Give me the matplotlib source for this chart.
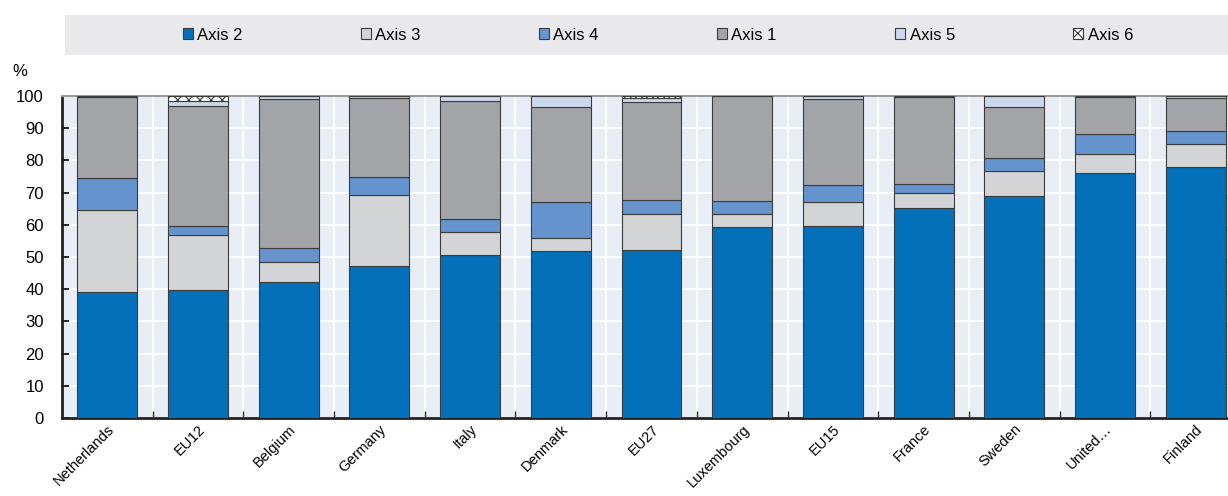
import matplotlib
matplotlib.use("Agg")
import matplotlib.pyplot as plt
from matplotlib.patches import Patch, Rectangle
import numpy as np

plt.rcParams['font.family'] = ['Liberation Sans', 'DejaVu Sans']
plt.rcParams['hatch.color'] = '#333333'
plt.rcParams['hatch.linewidth'] = 0.8

# data (share of total, %)
countries = ["Netherlands", "EU12", "Belgium", "Germany", "Italy", "Denmark", "EU27",
             "Luxembourg", "EU15", "France", "Sweden", "United…", "Finland"]
axis2 = [39.0, 39.6, 42.1, 47.2, 50.7, 51.8, 52.1, 59.2, 59.6, 65.2, 68.9, 76.0, 78.0]
axis3 = [25.5, 17.1, 6.5, 22.0, 7.1, 4.1, 11.2, 4.3, 7.4, 4.8, 7.8, 5.9, 7.0]
axis4 = [10.0, 2.9, 4.1, 5.6, 4.0, 11.2, 4.4, 3.8, 5.4, 2.6, 3.9, 6.4, 4.2]
axis1 = [25.1, 37.3, 46.3, 24.5, 36.5, 29.4, 30.4, 32.7, 26.6, 27.0, 16.1, 11.5, 10.1]
axis5 = [0.4, 1.7, 1.0, 0.7, 1.7, 3.5, 1.3, 0.0, 1.0, 0.4, 3.3, 0.2, 0.7]
axis6 = [0.0, 1.4, 0.0, 0.0, 0.0, 0.0, 0.6, 0.0, 0.0, 0.0, 0.0, 0.0, 0.0]

series = [("Axis 2", axis2, "#0470b9", None),
          ("Axis 3", axis3, "#d3d4d6", None),
          ("Axis 4", axis4, "#6493cd", None),
          ("Axis 1", axis1, "#a3a4a8", None),
          ("Axis 5", axis5, "#ccd8ec", None),
          ("Axis 6", axis6, "white", "xxx")]

fig = plt.figure(figsize=(12.28, 4.96), dpi=100)
ax = fig.add_axes([62 / 1228, 78 / 496, 1179 / 1228, 322 / 496])
ax.set_facecolor("#e9edf6")

x = np.arange(len(countries))
bottom = np.zeros(len(countries))
handles = []
for name, vals, color, hatch in series:
    vals = np.array(vals)
    ax.bar(x, vals, width=0.66, bottom=bottom, color=color, edgecolor="#3c3c3c",
           linewidth=0.8, hatch=hatch, zorder=3)
    bottom += vals
    handles.append(Patch(facecolor=color, edgecolor="#3c3c3c", linewidth=0.8,
                         hatch=hatch, label=name))

ax.set_xlim(-0.5, len(countries) - 0.5)
ax.set_ylim(0, 100)
ax.set_yticks(range(0, 101, 10))
ax.set_xticks(x)
ax.set_xticklabels(countries, rotation=45, ha="right", rotation_mode="anchor", fontsize=10.5)
ax.set_xticks(x[:-1] + 0.5, minor=True)
ax.tick_params(axis="x", which="major", length=0, pad=3)
ax.tick_params(axis="x", which="minor", direction="in", length=5, width=1, color="#222222")
ax.tick_params(axis="y", direction="in", length=5, width=1.2, labelsize=12, pad=13)

ax.grid(axis="y", which="major", color="white", linewidth=1.5, zorder=1)
ax.grid(axis="x", which="minor", color="white", linewidth=1.5, zorder=1)
ax.set_axisbelow(True)

ax.spines["left"].set_linewidth(2)
ax.spines["bottom"].set_linewidth(2)
ax.spines["left"].set_color("#222222")
ax.spines["bottom"].set_color("#222222")
ax.spines["top"].set_color("#9a9a9a")
ax.spines["top"].set_linewidth(1.5)
ax.spines["right"].set_visible(False)

fig.text(20 / 1228, 1 - 72 / 496, "%", fontsize=12, ha="center", va="center")

# legend band
fig.patches.append(Rectangle((65 / 1228, 1 - 55 / 496), 1 - 65 / 1228, 40 / 496,
                             transform=fig.transFigure, facecolor="#e9e9eb",
                             edgecolor="none", zorder=0))
fig.legend(handles=handles, ncol=6, mode="expand", frameon=False, fontsize=12,
           bbox_to_anchor=(183 / 1228, 1 - 50 / 496, 950 / 1228, 30 / 496),
           loc="center", borderaxespad=0, borderpad=0, handlelength=0.6,
           handleheight=0.6, handletextpad=0.25)

fig.savefig("out.png", dpi=100)
